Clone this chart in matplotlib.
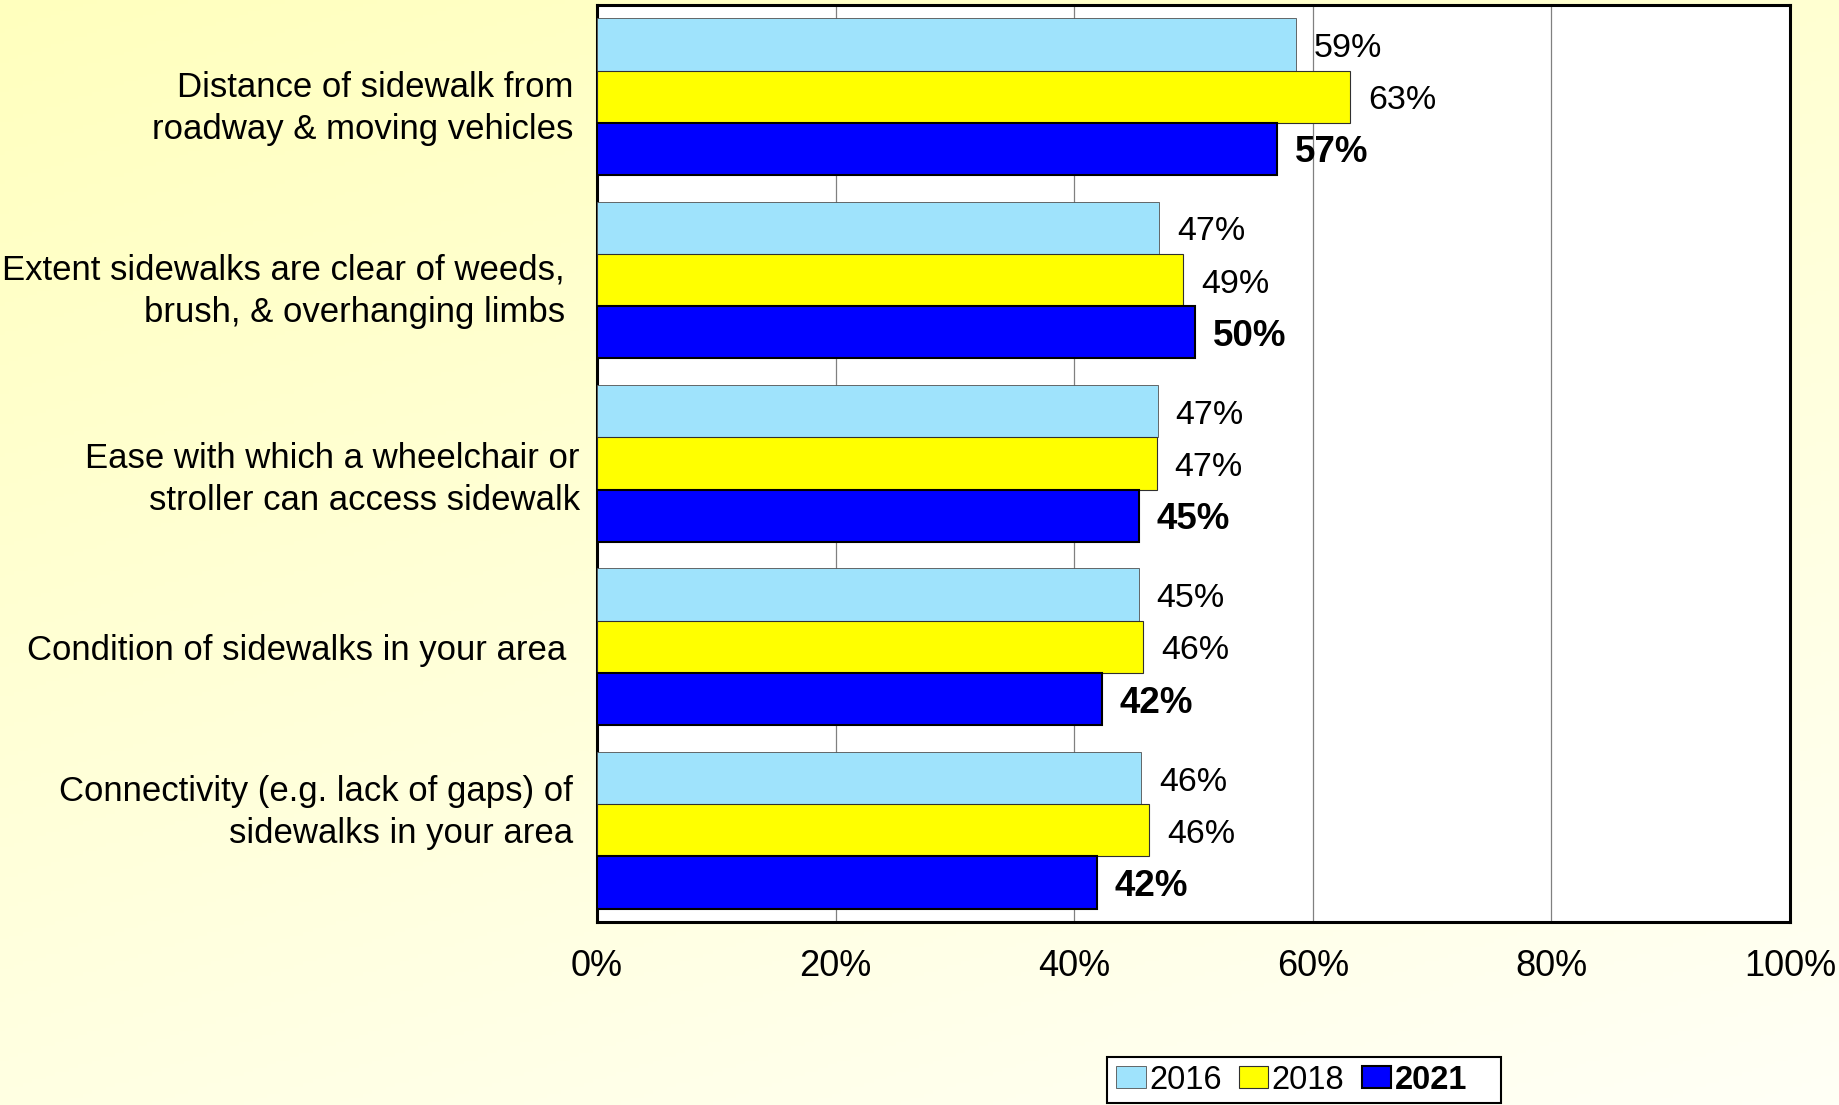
import matplotlib.pyplot as plt
from matplotlib.patches import Rectangle
import numpy as np

categories = [
	'Distance of sidewalk from\nroadway & moving vehicles',
	'Extent sidewalks are clear of weeds,\nbrush, & overhanging limbs',
	'Ease with which a wheelchair or\nstroller can access sidewalk',
	'Condition of sidewalks in your area',
	'Connectivity (e.g. lack of gaps) of\nsidewalks in your area',
]
years = ['2016', '2018', '2021']
v2016 = [58.6, 47.1, 47.0, 45.4, 45.6]
v2018 = [63.1, 49.1, 46.9, 45.8, 46.3]
v2021 = [57.0, 50.1, 45.4, 42.3, 41.9]
xticks = [0, 20, 40, 60, 80, 100]

colors = ['#9FE3FC', '#FFFF00', '#0000FF']
edges = ['#505050', '#303030', '#000000']
edge_w = [0.6, 0.8, 1.5]
weights = ['normal', 'normal', 'bold']
val_size = [24.5, 24.5, 26.5]

# category label nudges in pixels (gap from the axis, downward shift)
label_gap = [24, 32, 17, 31, 24]
label_dy = [12, 11, 16, 4, -18]

plt.rcParams['font.family'] = ['Liberation Sans', 'DejaVu Sans']

fig = plt.figure(figsize=(18.39, 11.05), dpi=100)

# pale yellow background fading to white towards the bottom right
bg = fig.add_axes([0, 0, 1, 1], zorder=-10)
gx, gy = np.meshgrid(np.linspace(0, 1, 400), np.linspace(0, 1, 300))
t = 0.35 * gx + 0.65 * gy
c0 = np.array([255, 255, 190]) / 255
c1 = np.array([255, 255, 246]) / 255
bg.imshow(c0 + t[..., None] * (c1 - c0), aspect='auto', extent=[0, 1, 0, 1])
bg.set_xlim(0, 1)
bg.set_ylim(0, 1)
bg.axis('off')

ax = fig.add_axes([0.3246, 0.1656, 0.6488, 0.8299])
ax.set_facecolor('white')

y = np.arange(len(categories))
h = 0.285
for i, vals in enumerate([v2016, v2018, v2021]):
	bars = ax.barh(y + (i - 1) * h, vals, height=h, color=colors[i],
		edgecolor=edges[i], linewidth=edge_w[i], label=years[i], zorder=3)
	for b, v in zip(bars, vals):
		ax.annotate(f'{v:.0f}%', xy=(v, b.get_y() + h / 2), xytext=(18, -4),
			textcoords='offset pixels', ha='left', va='center',
			fontsize=val_size[i], fontweight=weights[i])

for i, lab in enumerate(categories):
	ax.annotate(lab, xy=(0, i), xycoords=('axes fraction', 'data'),
		xytext=(-label_gap[i], -label_dy[i]), textcoords='offset pixels',
		ha='right', va='center', fontsize=25, linespacing=1.36)

ax.set_xlim(0, 100)
ax.set_ylim(4.5, -0.5)
ax.set_yticks([])
ax.set_xticks(xticks)
ax.set_xticklabels([f'{x}%' for x in xticks], fontsize=26)
ax.tick_params(axis='x', length=0, pad=19.5)
ax.xaxis.grid(True, color='#808080', linewidth=0.9)
ax.set_axisbelow(True)
for s in ax.spines.values():
	s.set_linewidth(2.2)
	s.set_color('black')

# legend box sits under the axes layer, entries are drawn on top of it
fig.patches.append(Rectangle((0.602, 0.0015), 0.2142, 0.0418, transform=fig.transFigure,
	facecolor='white', edgecolor='black', linewidth=1.5, zorder=-5))
leg = ax.legend(loc='center left', bbox_to_anchor=(0.6071, 0.0226), bbox_transform=fig.transFigure,
	ncol=3, fontsize=23.5, frameon=False, handlelength=0.89, handleheight=0.64,
	handletextpad=0.11, columnspacing=0.54, borderpad=0, borderaxespad=0)
leg.get_texts()[2].set_fontweight('bold')

plt.savefig('out.png', dpi=100)
